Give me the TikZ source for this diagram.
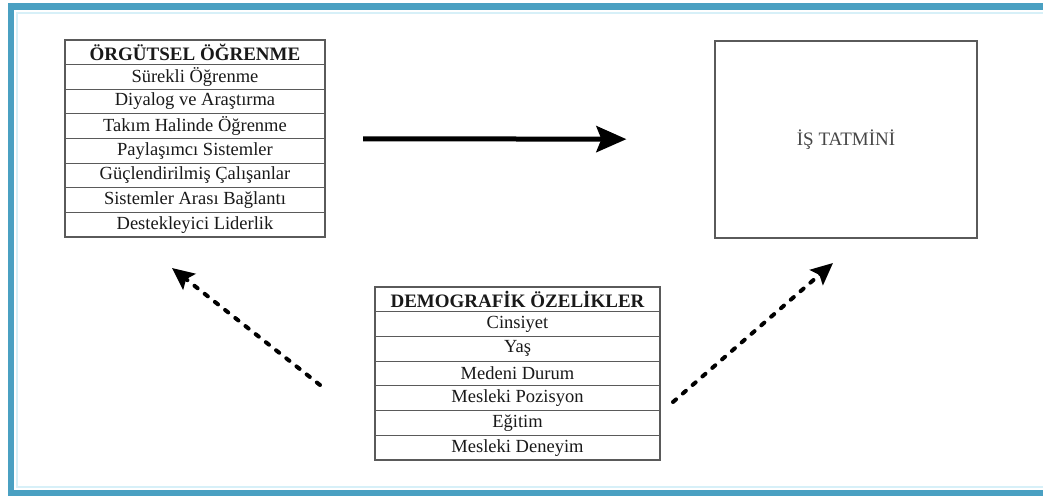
\documentclass[tikz,border=0pt]{standalone}
\usepackage{fontspec}
\setmainfont{Liberation Serif}
\usetikzlibrary{arrows.meta,fit}
\definecolor{framebl}{RGB}{74,160,194}
\definecolor{framelt}{RGB}{215,240,248}
\definecolor{rule}{RGB}{90,90,90}
\definecolor{ink}{RGB}{25,25,25}
\definecolor{softink}{RGB}{70,70,70}

\begin{document}
\begin{tikzpicture}[x=1pt,y=-1pt,
  cell/.style={draw=rule, line width=1.2pt, inner sep=0pt, outer sep=0pt,
    anchor=north, text=ink, font=\fontsize{18.5}{18.5}\selectfont},
  headcell/.style={cell, font=\fontsize{19}{19}\selectfont\bfseries},
  orgcell/.style={minimum width=260pt, minimum height=24.625pt},
  democell/.style={minimum width=285pt, minimum height=24.71pt},
  mainarrow/.style={line width=5pt, -{Stealth[length=30pt,width=26pt,inset=5pt]}},
  dasharrow/.style={line width=4pt, line cap=round, dash pattern=on 4pt off 9pt,
    -{Stealth[length=22pt,width=20pt,inset=4pt]}}
]
\useasboundingbox (0,0) rectangle (1043,496);
\fill[white] (0,0) rectangle (1043,496);

% blue frame around the whole figure
\draw[framelt, line width=2pt] (17,12.5) rectangle (1052,487);
\draw[framebl, line width=6.5pt] (11,6.5) rectangle (1058,493);

% organisational learning table
\node[headcell, orgcell] (o0) at (195,40) {ÖRGÜTSEL ÖĞRENME};
\foreach \t [count=\i from 1] in {Sürekli Öğrenme, Diyalog ve Araştırma,
    Takım Halinde Öğrenme, Paylaşımcı Sistemler, Güçlendirilmiş Çalışanlar,
    Sistemler Arası Bağlantı, Destekleyici Liderlik}{
  \node[cell, orgcell] (o\i) at (195,{40+24.625*\i}) {\t};
}
\node[fit=(o0)(o7), inner sep=0pt] (org) {};

% demographic characteristics table
\node[headcell, democell] (d0) at (517.5,287) {DEMOGRAFİK ÖZELİKLER};
\foreach \t [count=\i from 1] in {Cinsiyet, Yaş, Medeni Durum,
    Mesleki Pozisyon, Eğitim, Mesleki Deneyim}{
  \node[cell, democell] (d\i) at (517.5,{287+24.71*\i}) {\t};
}
\node[fit=(d0)(d6), inner sep=0pt] (demo) {};

% job satisfaction box
\node[draw=rule, line width=1.2pt, minimum width=262pt, minimum height=197pt,
  text=softink, font=\fontsize{19}{19}\selectfont] (job) at (846,139.5) {İŞ TATMİNİ};

% relations
\draw[mainarrow, shorten <=38pt, shorten >=88pt] (org) -- (job);

\coordinate (dl0) at (320,385);
\coordinate (dl1) at (172,268);
\coordinate (dr0) at (673,402);
\coordinate (dr1) at (833,263);
\draw[dasharrow] (dl0) -- (dl1);
\draw[dasharrow] (dr0) -- (dr1);
\end{tikzpicture}
\end{document}
